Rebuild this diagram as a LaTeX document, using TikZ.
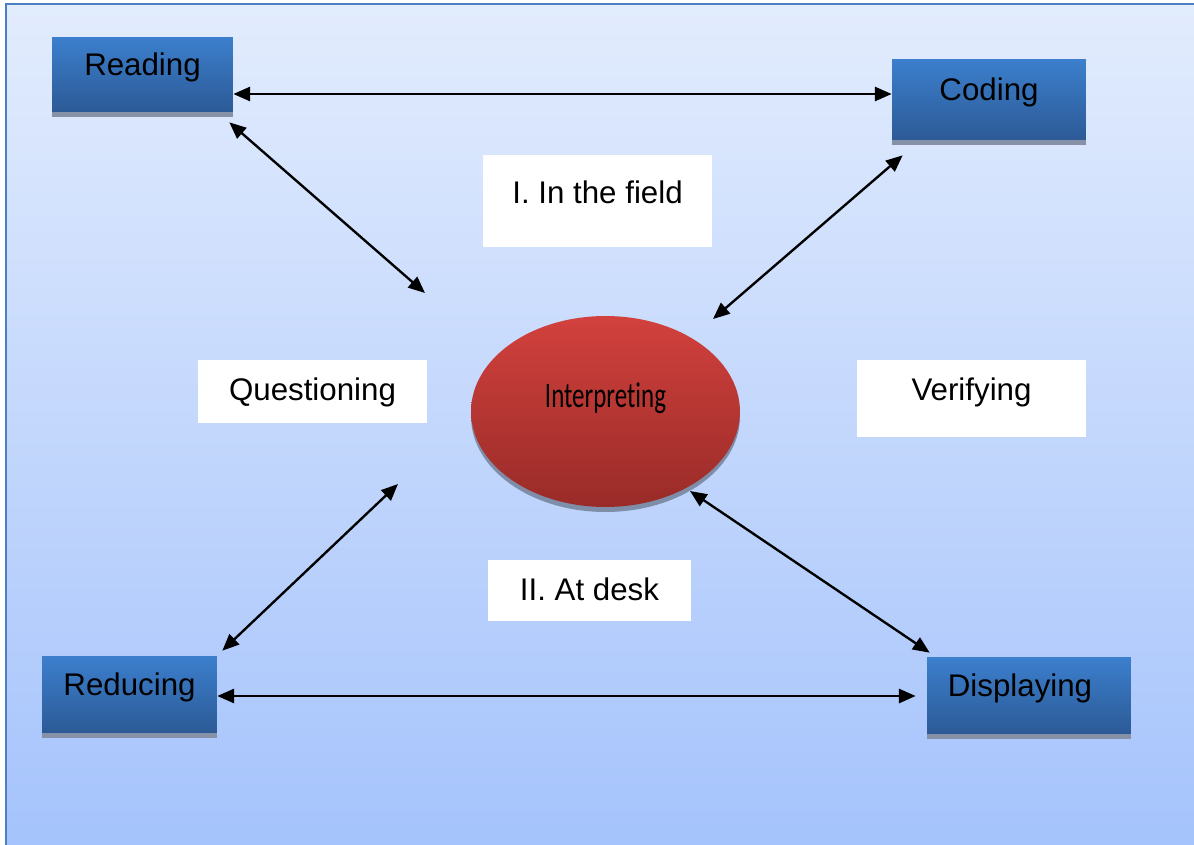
\documentclass[tikz,border=0pt]{standalone}
\usepackage{fontspec}
\setmainfont{Liberation Sans}
\newfontfamily\carlito[Ligatures=NoCommon]{Carlito}
\usepackage{graphicx}
\usetikzlibrary{arrows.meta,shapes.geometric,shadows,calc}

\definecolor{bgtop}{HTML}{E2ECFD}
\definecolor{bgbot}{HTML}{A5C3FC}
\definecolor{framecol}{HTML}{4A7FC1}
\definecolor{boxtop}{HTML}{3C7FCD}
\definecolor{boxbot}{HTML}{2C5A96}
\definecolor{boxshade}{HTML}{8690A6}
\definecolor{redtop}{HTML}{D2413D}
\definecolor{redbot}{HTML}{992B28}
\definecolor{redshade}{HTML}{7E8DA8}

\begin{document}
\begin{tikzpicture}[
    x=0.02cm, y=-0.02cm,
    box/.style={rectangle, inner sep=0pt, top color=boxtop, bottom color=boxbot,
        font=\fontsize{17.8}{21}\selectfont, text height=0.45cm, text depth=0.42cm,
        drop shadow={shadow xshift=0pt, shadow yshift=-0.1cm, fill=boxshade, opacity=1}},
    note/.style={rectangle, inner sep=0pt, fill=white, minimum width=4.58cm,
        font=\fontsize{17.8}{21}\selectfont, text height=0.45cm},
    arrow/.style={{Triangle[length=9.5pt,width=8pt]}-{Triangle[length=9.5pt,width=8pt]}, line width=1.35pt}
]
    \useasboundingbox (0,0) rectangle (1194,845);
    % background and frame
    \fill[top color=bgtop, bottom color=bgbot] (6,4) rectangle (1194,845);
    \draw[framecol, line width=0.04cm] (1194,4) -- (6,4) -- (6,845);

    \node[box, minimum width=3.62cm, minimum height=1.5cm] (reading) at (142.5,74.5) {Reading};
    \node[box, minimum width=3.88cm, minimum height=1.62cm] (coding) at (989,99.5) {Coding};
    \node[box, minimum width=3.5cm, minimum height=1.54cm] (reducing) at (129.5,694.5) {Reducing};
    \node[box, minimum width=4.08cm, minimum height=1.54cm] (displaying) at (1029,695.5) {Displaying\kern0.36cm};

    \node[ellipse, inner sep=0pt, minimum width=5.38cm, minimum height=3.82cm,
        top color=redtop, bottom color=redbot, text height=0.46cm, text depth=0.64cm,
        drop shadow={shadow xshift=0pt, shadow yshift=-0.1cm, fill=redshade, opacity=1}]
        (interp) at (605.5,411.5) {\scalebox{1}[1.44]{\carlito\fontsize{14.2}{17}\selectfont Interpret\kern0pt ing}};

    \node[note, minimum height=1.84cm, text depth=0.36cm] (field) at (597.5,201) {I. In the field};
    \node[note, minimum height=1.26cm, text depth=0.1cm] (question) at (312.5,391.5) {Questioning};
    \node[note, minimum height=1.54cm, text depth=0.38cm] (verify) at (971.5,398.5) {Verifying};
    \node[note, minimum width=4.06cm, minimum height=1.22cm, text depth=0.06cm] (desk) at (589.5,590.5) {II. At desk};

    \coordinate (p1) at (425,293);
    \coordinate (p2) at (713,319);
    \coordinate (p3) at (398,484);
    \coordinate (p4) at (690,491);

    \draw[arrow] (reading.east |- 0,94) -- (coding.west |- 0,94);
    \draw[arrow] ($(reading.south east)+(-4,10)$) -- (p1);
    \draw[arrow] ($(coding.south west)+(11,15)$) -- (p2);
    \draw[arrow] ($(reducing.north east)+(5,-5)$) -- (p3);
    \draw[arrow] (p4) -- ($(displaying.north west)+(3,-4)$);
    \draw[arrow, shorten >=0.22cm] (reducing.east |- 0,696) -- (displaying.west |- 0,696);
\end{tikzpicture}
\end{document}
